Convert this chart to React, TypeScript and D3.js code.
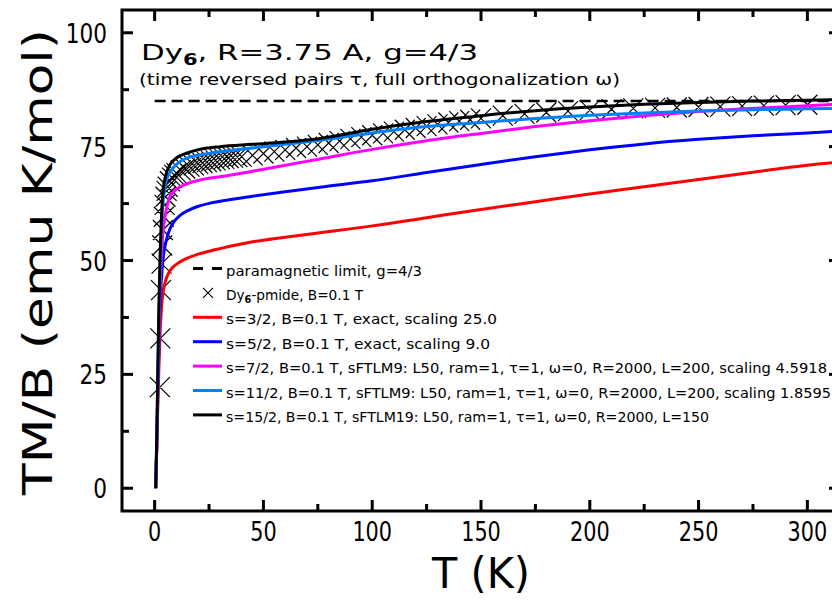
import React from 'react';
import * as d3 from 'd3';

// ---------- data ----------
const xMajorTicks = [0, 50, 100, 150, 200, 250, 300];
const xMinorTicks = [25, 75, 125, 175, 225, 275];
const yMajorTicks = [0, 25, 50, 75, 100];
const yMinorTicks = [12.5, 37.5, 62.5, 87.5];

const paraLimit = 85.0;

const redT = [0.5, 1, 1.5, 2, 2.5, 3, 3.5, 4, 5, 6, 7, 9, 11.7, 15, 20, 25.5, 30, 45, 60, 76, 100, 125, 150, 175, 200, 225, 250, 275, 300, 315];
const redV = [0.5, 9, 19, 27, 34, 38.5, 41.5, 43.3, 45.5, 46.8, 47.7, 48.8, 49.7, 50.5, 51.4, 52.1, 52.6, 54.1, 55.1, 56.1, 57.6, 59.4, 61.2, 62.9, 64.6, 66.2, 67.8, 69.4, 70.9, 71.6];

const blueT = [0.5, 1, 1.5, 2, 2.5, 3, 3.5, 4, 4.8, 6, 7, 9, 11.7, 15, 19.4, 25.5, 30, 45, 60, 76, 100, 125, 150, 175, 200, 225, 250, 275, 300, 315];
const blueV = [0, 10, 22, 32, 40, 45, 48.5, 50.8, 53.2, 55.5, 56.9, 58.6, 59.9, 60.9, 61.8, 62.6, 63.0, 64.1, 65.1, 66.1, 67.5, 69.3, 71.1, 72.8, 74.3, 75.6, 76.6, 77.4, 78.0, 78.4];

const magT = [0.5, 1, 1.5, 2, 2.5, 3, 3.5, 4, 4.8, 5.5, 7, 8.6, 11.7, 14.7, 19.4, 25.5, 30, 45, 60, 76, 100, 125, 150, 175, 200, 225, 250, 275, 300, 315];
const magV = [0, 10, 23, 35, 44, 50, 54, 57, 59.6, 61.5, 64, 65.0, 66.2, 66.8, 67.5, 68.1, 68.4, 69.6, 70.9, 72.3, 74.4, 76.3, 77.9, 79.4, 80.7, 81.8, 82.7, 83.4, 84.0, 84.3];

const cyanT = [0.5, 1, 1.5, 2, 2.5, 3, 3.5, 4, 5, 5.5, 7, 8.6, 11, 14.7, 20, 30, 45, 60, 76, 100, 125, 150, 175, 200, 225, 250, 275, 300, 315];
const cyanV = [0, 11, 25, 38, 48, 55, 60, 63.5, 66.8, 67.8, 69.3, 70.4, 71.5, 72.5, 73.1, 73.9, 74.7, 75.5, 76.4, 78.0, 79.4, 80.3, 81.2, 81.9, 82.4, 82.8, 83.1, 83.3, 83.4];

const blackT = [0.5, 1, 1.5, 2, 2.5, 3, 3.5, 4, 5, 7, 10, 15, 20, 30, 45, 60, 76, 100, 125, 150, 175, 200, 225, 250, 275, 300, 315];
const blackV = [0, 12, 27, 41, 51, 58, 63, 65.8, 68.5, 71, 72.5, 73.6, 74.3, 75.0, 75.5, 76.0, 76.8, 78.8, 80.5, 81.8, 82.9, 83.7, 84.3, 84.7, 85.0, 85.2, 85.3];

const dataT = [2.4, 2.6, 2.9, 3.2, 3.5, 3.8, 4.2, 4.6, 5, 5.5, 6, 7, 8, 9, 10, 12, 14, 16, 18, 20, 22, 24, 26, 28, 30, 32, 34, 36, 38, 40,
  45, 50, 55, 60, 65, 70, 75, 80, 85, 90, 95, 100, 105, 110, 115, 120, 125, 130, 135, 140, 145, 150,
  160, 170, 180, 190, 200, 210, 220, 230, 240, 250, 260, 270, 280, 290, 300];
const dataV = [22.2, 32.9, 43.5, 49.3, 53.3, 56.7, 59.6, 62.2, 64.0, 65.3, 66.2, 67.4, 68.2, 68.8, 69.2, 69.8, 70.2, 70.6, 70.9, 71.2, 71.4, 71.6, 71.8, 72.0, 72.2, 72.3, 72.5, 72.6, 72.7, 72.8,
  73.1, 73.5, 73.9, 74.3, 74.7, 75.0, 75.4, 75.8, 76.2, 76.7, 77.1, 77.5, 77.9, 78.3, 78.7, 79.1, 79.5, 79.9, 80.3, 80.6, 80.9, 81.2,
  81.8, 82.2, 82.5, 82.8, 83.0, 83.2, 83.4, 83.5, 83.6, 83.7, 83.8, 83.9, 84.0, 84.1, 84.2];

const seriesNames = ['red', 'blue', 'magenta', 'cyan', 'black'];
const seriesColors = ['#ff0000', '#0000ff', '#ff00ff', '#0080ff', '#000000'];

const legendLabels = [
  'paramagnetic limit, g=4/3',
  'Dy6-pmide, B=0.1 T',
  's=3/2, B=0.1 T, exact, scaling 25.0',
  's=5/2, B=0.1 T, exact, scaling 9.0',
  's=7/2, B=0.1 T, sFTLM9: L50, ram=1, τ=1, ω=0, R=2000, L=200, scaling 4.5918',
  's=11/2, B=0.1 T, sFTLM9: L50, ram=1, τ=1, ω=0, R=2000, L=200, scaling 1.8595',
  's=15/2, B=0.1 T, sFTLM19: L50, ram=1, τ=1, ω=0, R=2000, L=150',
];

// ---------- layout ----------
const W = 832, H = 600;
const L = 122, R = 840, T = 10, B = 511;
const legendTextLen = [196, 137, 271, 264, 601, 605, 483];
const FONT = '"DejaVu Sans", "Liberation Sans", sans-serif';

export default function App() {
  const x = d3.scaleLinear().domain([-15, 315]).range([L, R]);
  const y = d3.scaleLinear().domain([-5, 105]).range([B, T]);

  const line = d3.line<[number, number]>()
    .x(d => x(d[0]))
    .y(d => y(d[1]))
    .curve(d3.curveMonotoneX);

  const series = [
    [redT, redV], [blueT, blueV], [magT, magV], [cyanT, cyanV], [blackT, blackV],
  ].map(([ts, vs]) => ts.map((t, i) => [t, vs[i]] as [number, number]));

  const crossPath = dataT.map((t, i) => {
    const cx = x(t), cy = y(dataV[i]);
    const h = 10;
    return `M${cx - h},${cy - h}L${cx + h},${cy + h}M${cx - h},${cy + h}L${cx + h},${cy - h}`;
  }).join('');

  const rowY = (i: number) => 268.5 + i * 24.4;
  const lx0 = 193, lx1 = 222, ltx = 226;

  return (
    <svg width={W} height={H} style={{ position: 'absolute', left: 0, top: 0, background: '#fff' }}
      xmlns="http://www.w3.org/2000/svg">
      <defs>
        <clipPath id="plotClip">
          <rect x={L} y={T} width={R - L} height={B - T} />
        </clipPath>
      </defs>
      <rect x={0} y={0} width={W} height={H} fill="#fff" />

      {/* title */}
      <text x={141} y={60} fontFamily={FONT} fontSize={22} textLength={337} lengthAdjust="spacingAndGlyphs" fill="#000">
        Dy<tspan fontSize={15} fontWeight="bold" dy={5}>6</tspan><tspan dy={-5}>, R=3.75  A,  g=4/3</tspan>
      </text>
      <text x={139} y={85} fontFamily={FONT} fontSize={15} textLength={481} lengthAdjust="spacingAndGlyphs" fill="#000">
        (time reversed pairs τ, full orthogonalization ω)
      </text>

      <g clipPath="url(#plotClip)">
        {/* paramagnetic limit */}
        <line x1={x(0)} x2={x(315)} y1={y(paraLimit)} y2={y(paraLimit)} stroke="#000" strokeWidth={2.5} strokeDasharray="11,6" />
        {/* data crosses */}
        <path d={crossPath} stroke="#000" strokeWidth={1.2} fill="none" />
        {/* model curves */}
        {series.map((s, i) => (
          <path key={seriesNames[i]} d={line(s) || ''} fill="none" stroke={seriesColors[i]} strokeWidth={3} strokeLinejoin="round" />
        ))}
      </g>

      {/* legend */}
      <g fontFamily={FONT} fontSize={14} fill="#000">
        <line x1={lx0} x2={lx1} y1={rowY(0)} y2={rowY(0)} stroke="#000" strokeWidth={3} strokeDasharray="10,9" />
        <path d={`M${208 - 5},${rowY(1) - 5}L${208 + 5},${rowY(1) + 5}M${208 - 5},${rowY(1) + 5}L${208 + 5},${rowY(1) - 5}`} stroke="#000" strokeWidth={1.2} />
        {seriesColors.map((c, i) => (
          <line key={c} x1={lx0} x2={lx1} y1={rowY(i + 2)} y2={rowY(i + 2)} stroke={c} strokeWidth={3} />
        ))}
        {legendLabels.map((lab, i) => (
          i === 1 ? (
            <text key={i} x={ltx} y={rowY(i) + 7} textLength={legendTextLen[i]} lengthAdjust="spacingAndGlyphs">
              Dy<tspan fontSize={10} fontWeight="bold" dy={3}>6</tspan><tspan dy={-3}>{lab.slice(3)}</tspan>
            </text>
          ) : (
            <text key={i} x={ltx} y={rowY(i) + 7} textLength={legendTextLen[i]} lengthAdjust="spacingAndGlyphs">{lab}</text>
          )
        ))}
      </g>

      {/* frame */}
      <rect x={L} y={T} width={R - L} height={B - T} fill="none" stroke="#000" strokeWidth={3} />
      {/* ticks */}
      <g stroke="#000" strokeWidth={3}>
        {xMajorTicks.map(v => (
          <g key={'xM' + v}>
            <line x1={x(v)} x2={x(v)} y1={B} y2={B - 11} />
            <line x1={x(v)} x2={x(v)} y1={T} y2={T + 11} />
          </g>
        ))}
        {xMinorTicks.map(v => (
          <g key={'xm' + v}>
            <line x1={x(v)} x2={x(v)} y1={B} y2={B - 7} />
            <line x1={x(v)} x2={x(v)} y1={T} y2={T + 7} />
          </g>
        ))}
        {yMajorTicks.map(v => (
          <g key={'yM' + v}>
            <line x1={L} x2={L + 11} y1={y(v)} y2={y(v)} />
            <line x1={R} x2={R - 11} y1={y(v)} y2={y(v)} />
          </g>
        ))}
        {yMinorTicks.map(v => (
          <g key={'ym' + v}>
            <line x1={L} x2={L + 7} y1={y(v)} y2={y(v)} />
            <line x1={R} x2={R - 7} y1={y(v)} y2={y(v)} />
          </g>
        ))}
      </g>

      {/* tick labels */}
      <g fontFamily={FONT} fontSize={27} fill="#000">
        {xMajorTicks.map(v => (
          <text key={'xl' + v} transform={`translate(${x(v)},541) scale(0.77,1)`} textAnchor="middle">{String(v)}</text>
        ))}
        {yMajorTicks.map(v => (
          <text key={'yl' + v} transform={`translate(107,${y(v) + 10}) scale(0.8,1)`} textAnchor="end">{String(v)}</text>
        ))}
      </g>

      {/* axis titles */}
      <text x={x(150)} y={588} textAnchor="middle" fontFamily={FONT} fontSize={42} fill="#000" textLength={98} lengthAdjust="spacingAndGlyphs">T  (K)</text>
      <text transform={`translate(52,${262}) rotate(-90)`} textAnchor="middle" fontFamily={FONT} fontSize={41} fill="#000" textLength={466} lengthAdjust="spacingAndGlyphs">TM/B (emu K/mol)</text>
    </svg>
  );
}
